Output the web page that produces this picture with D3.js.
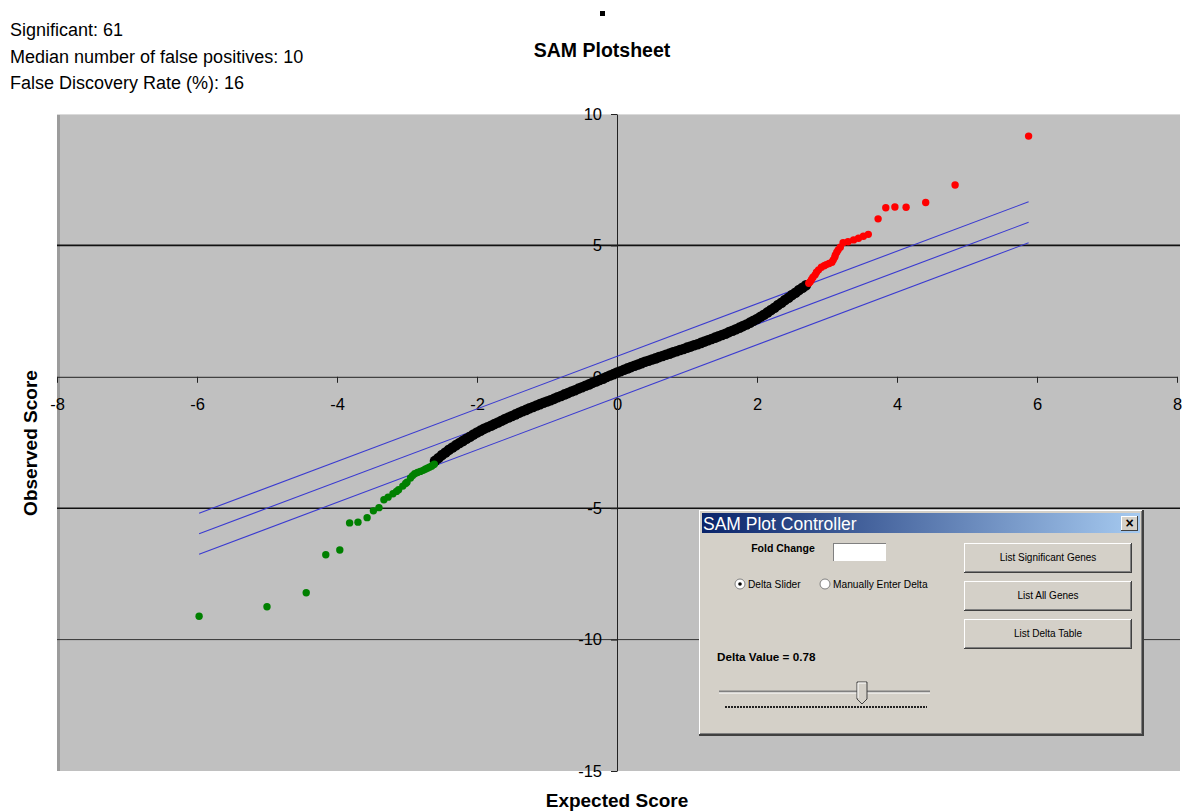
<!DOCTYPE html>
<html lang="en">
    <head>
        <meta charset="utf-8" />
        <title>SAM Plotsheet</title>
        <style>
            body { margin: 0; background: #fff; }
            svg text { font-family: "Liberation Sans", Arial, sans-serif; fill: #000; }
            .axis text { font-size: 16.5px; }
            .axis path, .axis line { stroke: #222; }
        </style>
        <script type="text/javascript" src="https://cdn.jsdelivr.net/npm/d3@7/dist/d3.min.js"></script>
    </head>
    <body>
        <script type="text/javascript">
            // summary lines printed above the chart
            var summaryLines = [
                'Significant: 61',
                'Median number of false positives: 10',
                'False Discovery Rate (%): 16'
            ];

            // tick labels on both axes
            var xTicks = [-8, -6, -4, -2, 0, 2, 4, 6, 8];
            var yTicks = [10, 5, 0, -5, -10, -15];
            var gridValues = [5, -5, -10];

            // non significant genes (black), expected vs observed score
            var expectedBlack = [-2.60, -2.55, -2.50, -2.45, -2.40, -2.35, -2.30, -2.25, -2.20, -2.15, -2.10, -2.05,
                -2.00, -1.95, -1.90, -1.85, -1.80, -1.75, -1.70, -1.65, -1.60, -1.55, -1.50, -1.45, -1.40, -1.35,
                -1.30, -1.25, -1.20, -1.15, -1.10, -1.05, -1.00, -0.95, -0.90, -0.85, -0.80, -0.75, -0.70, -0.65,
                -0.60, -0.55, -0.50, -0.45, -0.40, -0.35, -0.30, -0.25, -0.20, -0.15, -0.10, -0.05, 0.00, 0.05,
                0.10, 0.15, 0.20, 0.25, 0.30, 0.35, 0.40, 0.45, 0.50, 0.55, 0.60, 0.65, 0.70, 0.75, 0.80, 0.85,
                0.90, 0.95, 1.00, 1.05, 1.10, 1.15, 1.20, 1.25, 1.30, 1.35, 1.40, 1.45, 1.50, 1.55, 1.60, 1.65,
                1.70, 1.75, 1.80, 1.85, 1.90, 1.95, 2.00, 2.05, 2.10, 2.15, 2.20, 2.25, 2.30, 2.35, 2.40, 2.45,
                2.50, 2.55, 2.60, 2.65, 2.70];
            var observedBlack = [-3.20, -3.09, -2.98, -2.88, -2.78, -2.69, -2.60, -2.52, -2.44, -2.36, -2.28, -2.20,
                -2.12, -2.05, -1.98, -1.92, -1.86, -1.80, -1.74, -1.67, -1.61, -1.55, -1.49, -1.43, -1.37, -1.31,
                -1.26, -1.20, -1.15, -1.09, -1.04, -0.99, -0.94, -0.89, -0.84, -0.78, -0.73, -0.67, -0.62, -0.56,
                -0.51, -0.45, -0.40, -0.34, -0.29, -0.23, -0.18, -0.12, -0.07, -0.01, 0.05, 0.10, 0.16, 0.21,
                0.27, 0.32, 0.37, 0.42, 0.47, 0.52, 0.57, 0.61, 0.66, 0.70, 0.75, 0.79, 0.84, 0.88, 0.93, 0.97,
                1.02, 1.06, 1.11, 1.15, 1.20, 1.24, 1.29, 1.34, 1.39, 1.44, 1.49, 1.54, 1.59, 1.64, 1.70, 1.75,
                1.81, 1.87, 1.93, 1.99, 2.06, 2.13, 2.20, 2.28, 2.36, 2.45, 2.54, 2.63, 2.73, 2.82, 2.92, 3.01,
                3.11, 3.20, 3.30, 3.39, 3.48];

            // significant negative genes (green)
            var expectedGreen = [-5.97, -5.00, -4.44, -4.16, -3.96, -3.82, -3.70, -3.57, -3.48, -3.40, -3.33, -3.27,
                -3.20, -3.15, -3.12, -3.06, -3.02, -3.00, -2.95, -2.92, -2.89, -2.85, -2.81, -2.77, -2.74, -2.71,
                -2.68, -2.65, -2.63, -2.61];
            var observedGreen = [-9.11, -8.75, -8.22, -6.77, -6.59, -5.56, -5.53, -5.36, -5.10, -4.98, -4.68, -4.58,
                -4.45, -4.36, -4.30, -4.16, -4.06, -4.01, -3.85, -3.76, -3.69, -3.64, -3.60, -3.56, -3.52, -3.48,
                -3.44, -3.40, -3.36, -3.33];

            // significant positive genes (red)
            var expectedRed = [2.74, 2.76, 2.78, 2.80, 2.83, 2.85, 2.88, 2.92, 2.96, 2.99, 3.03, 3.07, 3.09, 3.11,
                3.12, 3.14, 3.16, 3.19, 3.23, 3.30, 3.38, 3.45, 3.52, 3.59, 3.73, 3.84, 3.97, 4.13, 4.41, 4.83, 5.88];
            var observedRed = [3.56, 3.62, 3.70, 3.79, 3.88, 3.98, 4.07, 4.17, 4.23, 4.27, 4.31, 4.36, 4.45, 4.55,
                4.64, 4.74, 4.83, 4.93, 5.10, 5.14, 5.21, 5.27, 5.35, 5.42, 6.01, 6.43, 6.46, 6.45, 6.63, 7.30, 9.16];

            // delta band: observed = expected + offset
            var delta = 0.78;
            var deltaOffsets = [delta, 0, -delta];
            var deltaRange = [-5.97, 5.88];

            // controller dialog texts
            var controllerButtons = ['List Significant Genes', 'List All Genes', 'List Delta Table'];
            var radioLabels = ['Delta Slider', 'Manually Enter Delta'];

            var width = 1185,
                height = 811,
                plotLeft = 57,
                plotRight = 1180,
                plotTop = 114,
                plotBottom = 771;

            var svg = d3.select('body')
                .append('svg')
                .attr('width', width)
                .attr('height', height);

            var x = d3.scaleLinear().domain([-8, 8]).range([plotLeft, 1177]);
            var y = d3.scaleLinear().domain([-15, 10]).range([plotBottom, plotTop]);

            // Excel style labels use a plain hyphen for the minus sign
            var plainFormat = function(d) { return String(d); };

            // header texts
            svg.selectAll('.summary')
                .data(summaryLines)
                .enter()
                .append('text')
                .attr('class', 'summary')
                .attr('x', 10)
                .attr('y', function(d, i) { return 36 + i * 26.5; })
                .style('font-size', '18px')
                .text(function(d) { return d; });

            svg.append('rect')
                .attr('x', 600).attr('y', 11)
                .attr('width', 5).attr('height', 5)
                .attr('fill', '#000');

            svg.append('text')
                .attr('x', 602)
                .attr('y', 57)
                .attr('text-anchor', 'middle')
                .style('font-size', '19.5px')
                .style('font-weight', 'bold')
                .text('SAM Plotsheet');

            // plot area with its shaded left edge
            svg.append('rect')
                .attr('x', plotLeft)
                .attr('y', plotTop)
                .attr('width', plotRight - plotLeft)
                .attr('height', plotBottom - plotTop)
                .attr('fill', '#c0c0c0');
            svg.append('rect')
                .attr('x', plotLeft)
                .attr('y', plotTop)
                .attr('width', 3)
                .attr('height', plotBottom - plotTop)
                .attr('fill', '#9c9c9c');
            svg.append('line')
                .attr('x1', plotLeft).attr('x2', plotRight)
                .attr('y1', plotTop + 0.5).attr('y2', plotTop + 0.5)
                .attr('stroke', '#dadada');

            // horizontal gridlines
            svg.selectAll('.grid')
                .data(gridValues)
                .enter()
                .append('line')
                .attr('class', 'grid')
                .attr('x1', plotLeft)
                .attr('x2', plotRight)
                .attr('y1', function(d) { return y(d); })
                .attr('y2', function(d) { return y(d); })
                .attr('stroke', function(d) { return d === -10 ? '#333' : '#111'; })
                .attr('stroke-width', function(d) { return d === -10 ? 1 : 1.6; });

            // axes cross at zero
            svg.append('g')
                .attr('class', 'axis')
                .attr('transform', 'translate(0,' + y(0) + ')')
                .call(d3.axisBottom(x).tickValues(xTicks).tickFormat(plainFormat)
                    .tickSizeInner(6).tickSizeOuter(0).tickPadding(15));

            svg.append('g')
                .attr('class', 'axis')
                .attr('transform', 'translate(' + x(0) + ',0)')
                .call(d3.axisLeft(y).tickValues(yTicks).tickFormat(plainFormat)
                    .tickSizeInner(6).tickSizeOuter(0).tickPadding(9));

            // delta band lines
            svg.selectAll('.band')
                .data(deltaOffsets)
                .enter()
                .append('line')
                .attr('class', 'band')
                .attr('x1', x(deltaRange[0]))
                .attr('x2', x(deltaRange[1]))
                .attr('y1', function(d) { return y(deltaRange[0] + d); })
                .attr('y2', function(d) { return y(deltaRange[1] + d); })
                .attr('stroke', '#3a3ad0')
                .attr('stroke-width', 1.1);

            function drawPoints(xs, ys, color, r) {
                svg.append('g')
                    .selectAll('circle')
                    .data(xs)
                    .enter()
                    .append('circle')
                    .attr('cx', function(d) { return x(d); })
                    .attr('cy', function(d, i) { return y(ys[i]); })
                    .attr('r', r)
                    .attr('fill', color);
            }

            drawPoints(expectedBlack, observedBlack, '#000', 5.3);
            drawPoints(expectedGreen, observedGreen, '#008000', 3.7);
            drawPoints(expectedRed, observedRed, '#ff0000', 3.7);

            // axis titles
            svg.append('text')
                .attr('transform', 'translate(37,443) rotate(-90)')
                .attr('text-anchor', 'middle')
                .style('font-size', '19px')
                .style('font-weight', 'bold')
                .text('Observed Score');

            svg.append('text')
                .attr('x', 617)
                .attr('y', 807)
                .attr('text-anchor', 'middle')
                .style('font-size', '19px')
                .style('font-weight', 'bold')
                .text('Expected Score');

            // SAM Plot Controller window
            var dlg = svg.append('g');
            var defs = svg.append('defs');
            var grad = defs.append('linearGradient').attr('id', 'titlebar');
            grad.append('stop').attr('offset', '0%').attr('stop-color', '#0a246a');
            grad.append('stop').attr('offset', '100%').attr('stop-color', '#a6caf0');

            dlg.append('rect').attr('x', 699).attr('y', 510).attr('width', 445).attr('height', 226).attr('fill', '#404040');
            dlg.append('rect').attr('x', 699).attr('y', 510).attr('width', 443).attr('height', 224).attr('fill', '#ffffff');
            dlg.append('rect').attr('x', 700).attr('y', 511).attr('width', 442).attr('height', 223).attr('fill', '#808080');
            dlg.append('rect').attr('x', 700).attr('y', 511).attr('width', 441).attr('height', 222).attr('fill', '#d4d0c8');
            dlg.append('rect').attr('x', 702).attr('y', 513).attr('width', 438).attr('height', 20).attr('fill', 'url(#titlebar)');
            dlg.append('text')
                .attr('x', 703).attr('y', 530)
                .style('font-size', '17.5px')
                .style('fill', '#fff')
                .text('SAM Plot Controller');

            // close box
            dlg.append('rect').attr('x', 1121).attr('y', 516).attr('width', 17).attr('height', 15).attr('fill', '#404040');
            dlg.append('rect').attr('x', 1121).attr('y', 516).attr('width', 16).attr('height', 14).attr('fill', '#fff');
            dlg.append('rect').attr('x', 1122).attr('y', 517).attr('width', 15).attr('height', 13).attr('fill', '#d4d0c8');
            dlg.append('text')
                .attr('x', 1129.5).attr('y', 528)
                .attr('text-anchor', 'middle')
                .style('font-size', '14px')
                .style('font-weight', 'bold')
                .text('\u00d7');

            dlg.append('text')
                .attr('x', 783).attr('y', 552)
                .attr('text-anchor', 'middle')
                .style('font-size', '10.5px')
                .style('font-weight', 'bold')
                .text('Fold Change');

            // sunken text box
            dlg.append('rect').attr('x', 833).attr('y', 543).attr('width', 53).attr('height', 18).attr('fill', '#808080');
            dlg.append('rect').attr('x', 834).attr('y', 544).attr('width', 52).attr('height', 17).attr('fill', '#fff');

            // radio buttons
            var radios = dlg.selectAll('.radio')
                .data(radioLabels)
                .enter()
                .append('g')
                .attr('class', 'radio')
                .attr('transform', function(d, i) { return 'translate(' + (740 + i * 85) + ',584)'; });
            radios.append('circle').attr('r', 5).attr('fill', '#fff').attr('stroke', '#808080');
            radios.filter(function(d, i) { return i === 0; })
                .append('circle').attr('r', 1.8).attr('fill', '#000');
            radios.append('text')
                .attr('x', 8).attr('y', 3.5)
                .style('font-size', '10.2px')
                .text(function(d) { return d; });

            dlg.append('text')
                .attr('x', 717).attr('y', 661)
                .style('font-size', '11.7px')
                .style('font-weight', 'bold')
                .text('Delta Value = ' + delta);

            // slider
            dlg.append('line').attr('x1', 719).attr('x2', 930).attr('y1', 691.5).attr('y2', 691.5).attr('stroke', '#808080').attr('stroke-width', 2);
            dlg.append('line').attr('x1', 719).attr('x2', 930).attr('y1', 693).attr('y2', 693).attr('stroke', '#fff');
            dlg.append('line').attr('x1', 725).attr('x2', 927).attr('y1', 707).attr('y2', 707)
                .attr('stroke', '#222').attr('stroke-width', 2).attr('stroke-dasharray', '2,1');
            dlg.append('path')
                .attr('d', 'M857,682 L867,682 L867,699 L862,704 L857,699 Z')
                .attr('fill', '#d4d0c8')
                .attr('stroke', '#404040');
            dlg.append('path')
                .attr('d', 'M858,698 L858,683 L866,683')
                .attr('fill', 'none')
                .attr('stroke', '#fff');

            // command buttons
            var buttons = dlg.selectAll('.btn')
                .data(controllerButtons)
                .enter()
                .append('g')
                .attr('class', 'btn')
                .attr('transform', function(d, i) { return 'translate(964,' + (543 + i * 38) + ')'; });
            buttons.append('rect').attr('width', 168).attr('height', 30).attr('fill', '#404040');
            buttons.append('rect').attr('width', 167).attr('height', 29).attr('fill', '#fff');
            buttons.append('rect').attr('x', 1).attr('y', 1).attr('width', 166).attr('height', 28).attr('fill', '#808080');
            buttons.append('rect').attr('x', 1).attr('y', 1).attr('width', 165).attr('height', 27).attr('fill', '#d4d0c8');
            buttons.append('text')
                .attr('x', 84).attr('y', 18)
                .attr('text-anchor', 'middle')
                .style('font-size', '10px')
                .text(function(d) { return d; });
        </script>
    </body>
</html>
